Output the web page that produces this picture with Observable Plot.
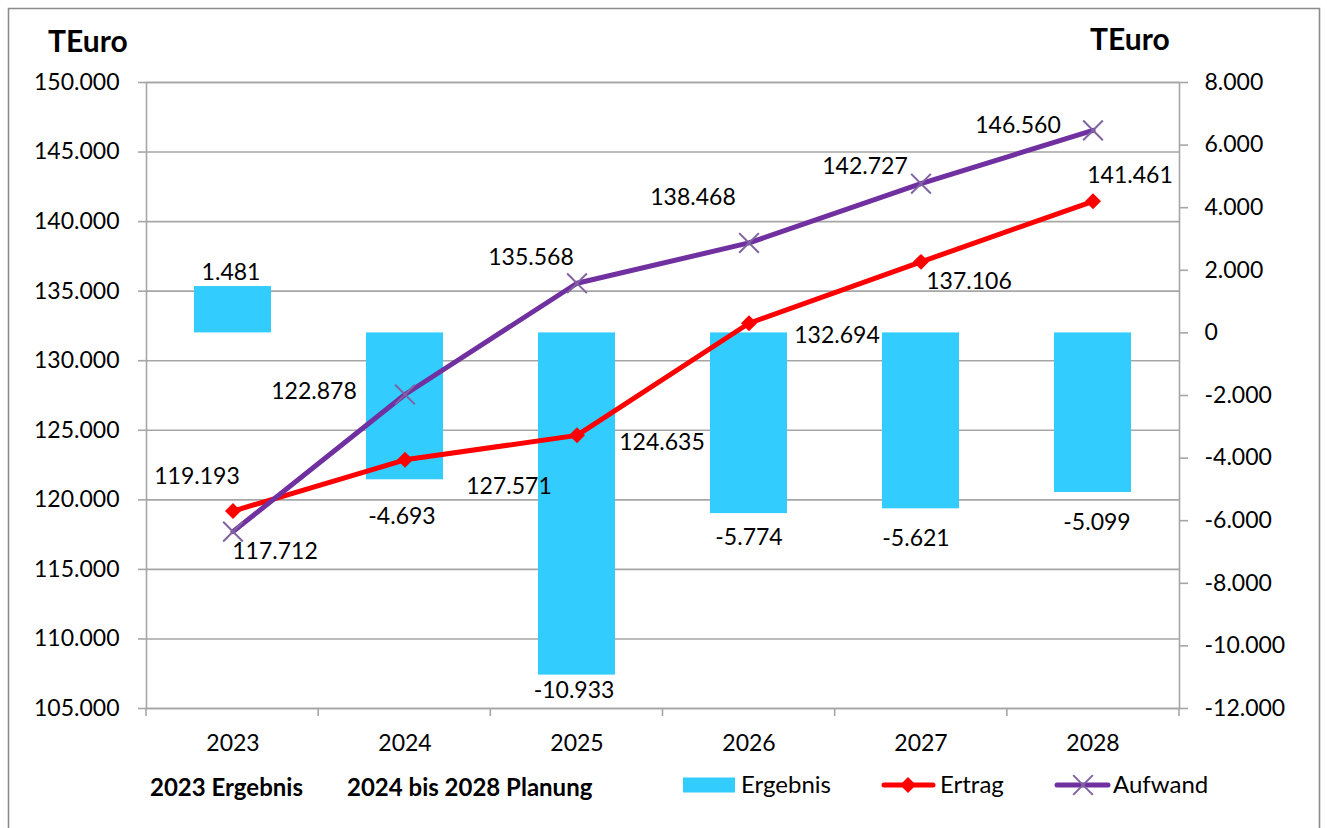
<!DOCTYPE html>
<html>
<head>
<meta charset="utf-8">
<script src="https://cdn.jsdelivr.net/npm/d3@7"></script>
<script src="https://cdn.jsdelivr.net/npm/@observablehq/plot@0.6"></script>
<style>
  html, body { margin: 0; padding: 0; background: #ffffff; overflow: hidden; }
  #chart { width: 1327px; height: 828px; }
</style>
</head>
<body>
<div id="chart"></div>
<script>
// ---- data (TEuro) ----
const years = ["2023", "2024", "2025", "2026", "2027", "2028"];
const ertrag = [119193, 122878, 124635, 132694, 137106, 141461];
const aufwand = [117712, 127571, 135568, 138468, 142727, 146560];
const ergebnis = [1481, -4693, -10933, -5774, -5621, -5099];
const leftTicks = [105000, 110000, 115000, 120000, 125000, 130000, 135000, 140000, 145000, 150000];
const rightTicks = [-12000, -10000, -8000, -6000, -4000, -2000, 0, 2000, 4000, 6000, 8000];
const seriesNames = ["Ergebnis", "Ertrag", "Aufwand"];
const unitTitle = "TEuro";
const footNotes = ["2023 Ergebnis", "2024 bis 2028 Planung"];

// ---- styling / layout config ----
const colors = { ergebnis: "#33ccff", ertrag: "#ff0000", aufwand: "#7030a0", aufwandMarker: "#8064a2" };
const gridColor = "#a6a6a6";
const font = "Lato, 'Open Sans', sans-serif";
const numSize = 23;
// label offsets (dx, dy) relative to the data point, as placed in the original
const ertragLabelOff = [[-36, -34], [-91, -68], [85, 7], [88, 12], [48, 20], [37, -26]];
const aufwandLabelOff = [[42, 20], [104, 92], [-46, -26], [-56, -45], [-56, -17], [-75, -5]];
const ergebnisLabelOff = [[-2, -14], [-3, 37], [-3, 16], [0, 24], [-5, 30], [4, 30]];

// secondary axis mapping (right axis -> left axis domain)
const L = [leftTicks[0], leftTicks[leftTicks.length - 1]];
const R = [rightTicks[0], rightTicks[rightTicks.length - 1]];
const toLeft = v => L[0] + (v - R[0]) * (L[1] - L[0]) / (R[1] - R[0]);
const toRight = v => Math.round(R[0] + (v - L[0]) * (R[1] - R[0]) / (L[1] - L[0]));

const fmt = d3.formatLocale({ decimal: ",", thousands: ".", grouping: [3], currency: ["", " €"], minus: "-" }).format(",.0f");

const rows = years.map((y, i) => ({ year: y, ertrag: ertrag[i], aufwand: aufwand[i], ergebnis: ergebnis[i] }));

const labelMarks = [];
rows.forEach((d, i) => {
  labelMarks.push(Plot.text([d], { x: "year", y: "ertrag", text: r => fmt(r.ertrag), dx: ertragLabelOff[i][0], dy: ertragLabelOff[i][1], fill: "#000", fontSize: numSize }));
  labelMarks.push(Plot.text([d], { x: "year", y: "aufwand", text: r => fmt(r.aufwand), dx: aufwandLabelOff[i][0], dy: aufwandLabelOff[i][1], fill: "#000", fontSize: numSize }));
  labelMarks.push(Plot.text([d], { x: "year", y: r => toLeft(r.ergebnis), text: r => fmt(r.ergebnis), dx: ergebnisLabelOff[i][0], dy: ergebnisLabelOff[i][1], fill: "#000", fontSize: numSize }));
});

const chart = Plot.plot({
  width: 1327,
  height: 828,
  marginLeft: 146,
  marginRight: 148,
  marginTop: 82,
  marginBottom: 120,
  style: { fontFamily: font, fontSize: numSize + "px", color: "#000", background: "#ffffff" },
  x: { type: "band", domain: years, paddingInner: 0.55, paddingOuter: 0.275, label: null },
  y: { domain: L, label: null },
  marks: [
    Plot.ruleY(leftTicks, { stroke: gridColor, strokeWidth: 1.6 }),
    Plot.frame({ stroke: gridColor, strokeWidth: 1.6 }),
    Plot.axisY(leftTicks, { anchor: "left", tickSize: 8, tickPadding: 19, tickFormat: fmt, stroke: gridColor, strokeWidth: 1.6, fill: "#000", label: null }),
    Plot.axisY(rightTicks.map(toLeft), { anchor: "right", tickSize: 8, tickPadding: 17, tickFormat: v => fmt(toRight(v)), stroke: gridColor, strokeWidth: 1.6, fill: "#000", label: null }),
    Plot.axisX({ anchor: "bottom", tickSize: 0, tickPadding: 26, fill: "#000", label: null }),
    Plot.barY(rows, { x: "year", y1: toLeft(0), y2: d => toLeft(d.ergebnis), fill: colors.ergebnis }),
    Plot.line(rows, { x: "year", y: "ertrag", stroke: colors.ertrag, strokeWidth: 5, strokeLinejoin: "round" }),
    Plot.dot(rows, { x: "year", y: "ertrag", symbol: "diamond2", r: 7.2, fill: colors.ertrag }),
    Plot.line(rows, { x: "year", y: "aufwand", stroke: colors.aufwand, strokeWidth: 5, strokeLinejoin: "round" }),
    Plot.dot(rows, { x: "year", y: "aufwand", symbol: "times", r: 9, stroke: colors.aufwandMarker, strokeWidth: 2 }),
    ...labelMarks
  ]
});

document.getElementById("chart").appendChild(chart);

// ---- decorations: boundary ticks, outer border, titles, legend ----
const svg = d3.select(chart);
const sx = chart.scale("x");
const sy = chart.scale("y");
const [x0, x1] = sx.range;
const step = (x1 - x0) / years.length;
const yBottom = sy.range[0];
for (let i = 0; i <= years.length; i++) {
  svg.append("line").attr("x1", x0 + i * step).attr("x2", x0 + i * step)
    .attr("y1", yBottom).attr("y2", yBottom + 8)
    .attr("stroke", gridColor).attr("stroke-width", 1.6);
}
// outer chart border (top, left, right)
svg.append("path").attr("d", "M8.5,840 L8.5,8.5 L1319.5,8.5 L1319.5,840")
  .attr("fill", "none").attr("stroke", "#8c8c8c").attr("stroke-width", 1.6);

const deco = svg.append("g").attr("font-family", font).attr("fill", "#000").attr("text-anchor", "start");

// unit titles
deco.append("text").attr("x", 48).attr("y", 52).text(unitTitle)
  .attr("font-weight", "bold").attr("font-size", 30);
deco.append("text").attr("x", 1090).attr("y", 50).text(unitTitle)
  .attr("font-weight", "bold").attr("font-size", 30);

// foot notes
deco.append("text").attr("x", 150).attr("y", 796).text(footNotes[0])
  .attr("font-weight", "bold").attr("font-size", 24);
deco.append("text").attr("x", 347).attr("y", 796).text(footNotes[1])
  .attr("font-weight", "bold").attr("font-size", 24);

// legend
const ly = 785;
const lg = deco.append("g").attr("font-size", 24);
lg.append("rect").attr("x", 683).attr("y", ly - 7.5).attr("width", 52).attr("height", 15).attr("fill", colors.ergebnis);
lg.append("text").attr("x", 741).attr("y", ly + 8).text(seriesNames[0]);
lg.append("line").attr("x1", 884).attr("x2", 933).attr("y1", ly).attr("y2", ly)
  .attr("stroke", colors.ertrag).attr("stroke-width", 5).attr("stroke-linecap", "round");
lg.append("path").attr("d", d3.symbol(d3.symbolDiamond2, Math.PI * 7.2 * 7.2)()).attr("transform", `translate(908,${ly})`).attr("fill", colors.ertrag);
lg.append("text").attr("x", 940).attr("y", ly + 8).text(seriesNames[1]);
lg.append("line").attr("x1", 1057).attr("x2", 1108).attr("y1", ly).attr("y2", ly)
  .attr("stroke", colors.aufwand).attr("stroke-width", 5).attr("stroke-linecap", "round");
lg.append("path").attr("d", d3.symbol(d3.symbolTimes, Math.PI * 9 * 9)()).attr("transform", `translate(1083,${ly})`)
  .attr("fill", "none").attr("stroke", colors.aufwandMarker).attr("stroke-width", 2);
lg.append("text").attr("x", 1113).attr("y", ly + 8).text(seriesNames[2]);
</script>
</body>
</html>
